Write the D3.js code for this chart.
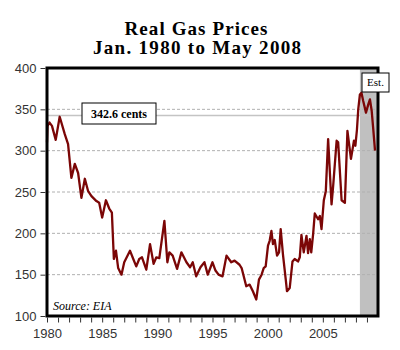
<!DOCTYPE html>
<html>
<head>
<meta charset="utf-8">
<script src="https://cdn.jsdelivr.net/npm/d3@7"></script>
<style>
  body { margin: 0; background: #fff; }
  svg { display: block; }
</style>
</head>
<body>
<svg id="chart" width="400" height="350"></svg>
<script>
// Data (decimal year, cents)
const years = [1980.00,1980.05,1980.23,1980.45,1980.79,1981.15,1981.61,1981.91,1982.21,1982.52,1982.82,1983.12,1983.43,1983.73,1984.03,1984.48,1984.73,1985.00,1985.34,1985.64,1985.88,1986.06,1986.25,1986.45,1986.75,1987.00,1987.52,1987.82,1988.09,1988.36,1988.61,1989.00,1989.34,1989.66,1989.91,1990.18,1990.64,1990.91,1991.09,1991.39,1991.79,1992.18,1992.64,1992.97,1993.21,1993.52,1993.91,1994.27,1994.57,1995.00,1995.27,1995.55,1995.91,1996.27,1996.70,1997.00,1997.45,1997.64,1998.06,1998.36,1998.66,1998.97,1999.21,1999.45,1999.64,1999.82,2000.03,2000.18,2000.34,2000.48,2000.64,2000.85,2001.03,2001.18,2001.39,2001.64,2001.75,2002.00,2002.25,2002.45,2002.75,2002.91,2003.06,2003.27,2003.52,2003.66,2003.82,2003.95,2004.12,2004.27,2004.57,2004.73,2004.88,2005.09,2005.27,2005.48,2005.79,2005.94,2006.25,2006.39,2006.70,2007.00,2007.23,2007.55,2007.82,2007.95,2008.09,2008.21,2008.36,2008.50,2008.66,2008.91,2009.12,2009.27,2009.43,2009.57,2009.73];
const prices = [310,330,334,330,313,341,320,308,267,284,273,243,266,251,245,239,237,219,240,230,225,169,179,158,150,165,179,169,160,169,171,156,187,163,171,170,215,165,177,173,157,177,165,159,165,148,159,165,150,165,155,150,148,173,165,167,162,158,136,138,130,120,144,150,158,160,185,191,203,187,192,173,177,205,174,144,130,134,166,169,166,171,198,177,197,176,193,177,199,224,217,221,205,240,251,314,235,258,312,310,240,237,324,290,312,306,325,350,368,370,360,346,356,362,348,326,300];

const yTicks = [100, 150, 200, 250, 300, 350, 400];
const gridValues = [150, 200, 250, 300, 350];
const xLabels = [1980, 1985, 1990, 1995, 2000, 2005];
const refValue = 342.6;
const estStart = 2008.36;

const margin = { left: 47, right: 22, top: 68, bottom: 34 };
const W = 400, H = 350;

const svg = d3.select('#chart');

const x = d3.scaleLinear().domain([1980, 2010]).range([margin.left, W - margin.right]);
const y = d3.scaleLinear().domain([100, 400]).range([H - margin.bottom, margin.top]);

// Title (stretched to the width of the original serif face)
svg.append('text')
    .attr('x', 196).attr('y', 35)
    .attr('text-anchor', 'middle')
    .attr('textLength', 143).attr('lengthAdjust', 'spacing')
    .style('font', 'bold 19px "Liberation Serif", serif')
    .text('Real Gas Prices');
svg.append('text')
    .attr('x', 197).attr('y', 54)
    .attr('text-anchor', 'middle')
    .attr('textLength', 208).attr('lengthAdjust', 'spacing')
    .style('font', 'bold 19px "Liberation Serif", serif')
    .text('Jan. 1980 to May 2008');

// Estimate shading
svg.append('rect')
    .attr('x', x(estStart)).attr('y', y(400))
    .attr('width', x(2010) - x(estStart)).attr('height', y(100) - y(400))
    .attr('fill', '#c0c0c0');

// Gridlines
svg.append('g').selectAll('line')
    .data(gridValues).enter().append('line')
    .attr('x1', x(1980)).attr('x2', x(2010))
    .attr('y1', d => y(d)).attr('y2', d => y(d))
    .attr('stroke', '#b0b0b0')
    .attr('stroke-dasharray', '3,2');

// Reference line
svg.append('line')
    .attr('x1', x(1980)).attr('x2', x(2010))
    .attr('y1', y(refValue)).attr('y2', y(refValue))
    .attr('stroke', '#c4c4c4').attr('stroke-width', 1.5);

// Price line
const line = d3.line()
    .x((d, i) => x(years[i]))
    .y(d => y(d));

svg.append('path')
    .datum(prices)
    .attr('d', line)
    .attr('fill', 'none')
    .attr('stroke', '#7b0606')
    .attr('stroke-width', 2.3)
    .attr('stroke-linejoin', 'round');

// Frame
svg.append('rect')
    .attr('x', x(1980)).attr('y', y(400))
    .attr('width', x(2010) - x(1980)).attr('height', y(100) - y(400))
    .attr('fill', 'none')
    .attr('stroke', '#000').attr('stroke-width', 3);

// Y axis
const yAxis = svg.append('g')
    .attr('transform', `translate(${x(1980) - 1.5},0)`)
    .call(d3.axisLeft(y).tickValues(yTicks).tickSize(5).tickPadding(4));
yAxis.select('.domain').remove();
yAxis.selectAll('text')
    .style('font', '13px "Liberation Sans", Arial, sans-serif')
    .attr('fill', '#333');
yAxis.selectAll('line').attr('stroke', '#333');

// X axis with yearly minor ticks
const xAxis = svg.append('g')
    .attr('transform', `translate(0,${y(100) + 1.5})`)
    .call(d3.axisBottom(x).tickValues(d3.range(1980, 2010)).tickSize(5).tickPadding(6)
      .tickFormat(d => xLabels.includes(d) ? d : ''));
xAxis.select('.domain').remove();
xAxis.selectAll('text')
    .style('font', '13px "Liberation Sans", Arial, sans-serif')
    .attr('fill', '#333');
xAxis.selectAll('line').attr('stroke', '#333');

// Annotation boxes
function labelBox(cx, cy, w, h, txt, font) {
  svg.append('rect')
      .attr('x', cx - w / 2).attr('y', cy - h / 2)
      .attr('width', w).attr('height', h)
      .attr('fill', '#fff').attr('stroke', '#000').attr('stroke-width', 1);
  svg.append('text')
      .attr('x', cx).attr('y', cy)
      .attr('dy', '0.35em')
      .attr('text-anchor', 'middle')
      .style('font', font)
      .text(txt);
}
labelBox(119, 113.5, 74, 21, '342.6 cents', 'bold 12px "Liberation Serif", serif');
labelBox(375.5, 82.5, 27, 19, 'Est.', '11px "Liberation Serif", serif');

// Source note
svg.append('text')
    .attr('x', 53).attr('y', 310)
    .style('font', 'italic 12px "Liberation Serif", serif')
    .text('Source: EIA');
</script>
</body>
</html>
